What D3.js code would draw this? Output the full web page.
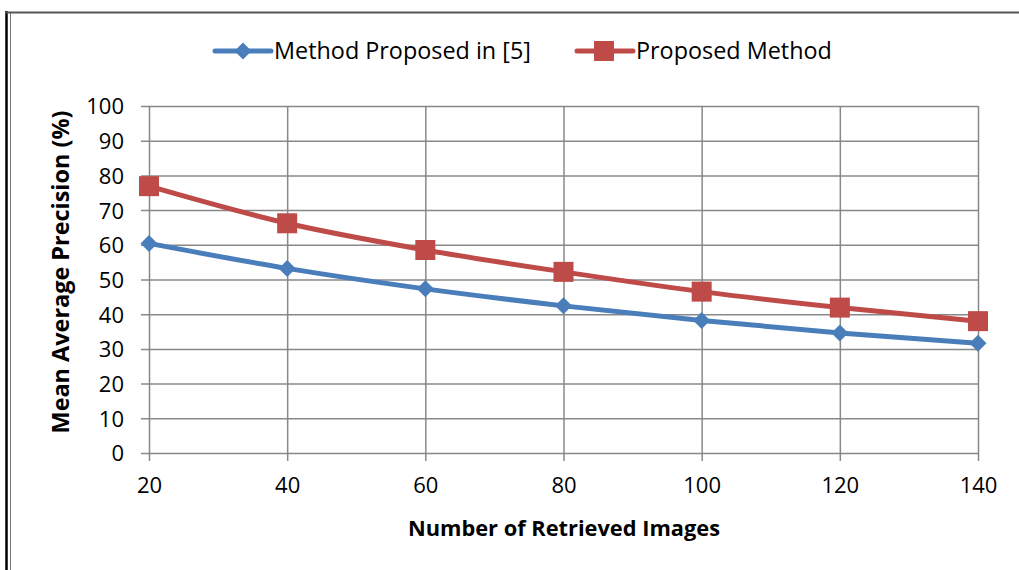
<!DOCTYPE html>
<html>
<head>
<meta charset="utf-8">
<script src="https://cdn.jsdelivr.net/npm/d3@7"></script>
<style>
  html, body { margin: 0; padding: 0; background: #fff; }
  svg { display: block; }
  text { font-family: "Open Sans", Lato, sans-serif; fill: #000; }
</style>
</head>
<body>
<svg id="chart" width="1019" height="570"></svg>
<script>
// Retrieval sizes on the x axis
const retrieved = [20, 40, 60, 80, 100, 120, 140];
// Mean average precision (%) for each method
const methodRef5 = [60.4, 53.2, 47.3, 42.4, 38.2, 34.6, 31.6];
const proposed = [76.9, 66.2, 58.5, 52.2, 46.5, 41.9, 38.0];
const yTicks = [0, 10, 20, 30, 40, 50, 60, 70, 80, 90, 100];
const seriesNames = ["Method Proposed in [5]", "Proposed Method"];
const seriesColors = ["#4A7EBB", "#BE4B48"];

const svg = d3.select("#chart");
const grid = "#888888";

// shrink or grow a text node's font so it spans the given width
function fitWidth(sel, width) {
  const node = sel.node();
  const base = parseFloat(sel.style("font-size"));
  const w = node.getComputedTextLength();
  sel.style("font-size", (base * width / w).toFixed(2) + "px");
  return sel;
}

// outer frame
svg.append("line").attr("x1", 6.5).attr("x2", 6.5).attr("y1", 11).attr("y2", 570)
  .attr("stroke", "#000").attr("stroke-width", 2.5);
svg.append("line").attr("x1", 10.5).attr("x2", 10.5).attr("y1", 12).attr("y2", 570)
  .attr("stroke", "#777").attr("stroke-width", 1);
svg.append("line").attr("x1", 5).attr("x2", 1019).attr("y1", 12.5).attr("y2", 12.5)
  .attr("stroke", "#555").attr("stroke-width", 2);

const x = d3.scaleLinear().domain([20, 140]).range([149, 978]);
const y = d3.scaleLinear().domain([0, 100]).range([453, 106]);

// horizontal gridlines with outward ticks
const yAxis = d3.axisLeft(y).tickValues(yTicks).tickSize(978 - 141).tickSizeOuter(0).tickPadding(17);
const gy = svg.append("g").attr("transform", "translate(978,0)").call(yAxis);
gy.select(".domain").remove();
gy.selectAll(".tick line").attr("stroke", grid).attr("stroke-width", 1.5);
gy.selectAll(".tick text").style("font-size", "22px").attr("dy", "0.36em");

// vertical gridlines with outward ticks
const xAxis = d3.axisBottom(x).tickValues(retrieved).tickSize(461 - 106).tickSizeOuter(0).tickPadding(16);
const gx = svg.append("g").attr("transform", "translate(0,106)").call(xAxis);
gx.select(".domain").remove();
gx.selectAll(".tick line").attr("stroke", grid).attr("stroke-width", 1.5);
gx.selectAll(".tick text").style("font-size", "22px");

// axis titles
fitWidth(svg.append("text").attr("x", 564).attr("y", 536).attr("text-anchor", "middle")
  .style("font-size", "20px").style("font-weight", "bold").text("Number of Retrieved Images"), 312);
fitWidth(svg.append("text").attr("transform", "translate(69,272) rotate(-90)").attr("text-anchor", "middle")
  .style("font-size", "20px").style("font-weight", "bold").text("Mean Average Precision (%)"), 323);

const line = d3.line().x((d, i) => x(retrieved[i])).y(d => y(d)).curve(d3.curveMonotoneX);
const allSeries = [methodRef5, proposed];

const diamond = s => `M0,${-s}L${s},0L0,${s}L${-s},0Z`;

allSeries.forEach((vals, k) => {
  svg.append("path").datum(vals).attr("d", line).attr("fill", "none")
    .attr("stroke", seriesColors[k]).attr("stroke-width", 5).attr("stroke-linejoin", "round");
  const g = svg.append("g");
  vals.forEach((v, i) => {
    const cx = x(retrieved[i]), cy = y(v);
    if (k === 0) {
      g.append("path").attr("d", diamond(8.5)).attr("transform", `translate(${cx},${cy})`)
        .attr("fill", seriesColors[k]);
    } else {
      g.append("rect").attr("x", cx - 10).attr("y", cy - 10).attr("width", 20).attr("height", 20)
        .attr("fill", seriesColors[k]);
    }
  });
});

// legend
const legendX = [215, 577];
const legendTextW = [257, 196];
seriesNames.forEach((name, k) => {
  const lx = legendX[k], ly = 51;
  svg.append("line").attr("x1", lx).attr("x2", lx + 56).attr("y1", ly).attr("y2", ly)
    .attr("stroke", seriesColors[k]).attr("stroke-width", 5).attr("stroke-linecap", "round");
  if (k === 0) {
    svg.append("path").attr("d", diamond(8.5)).attr("transform", `translate(${lx + 28},${ly})`)
      .attr("fill", seriesColors[k]);
  } else {
    svg.append("rect").attr("x", lx + 17).attr("y", ly - 10).attr("width", 20).attr("height", 20)
      .attr("fill", seriesColors[k]);
  }
  fitWidth(svg.append("text").attr("x", lx + 59).attr("y", ly + 8).style("font-size", "22px").text(name),
    legendTextW[k]);
});
</script>
</body>
</html>
